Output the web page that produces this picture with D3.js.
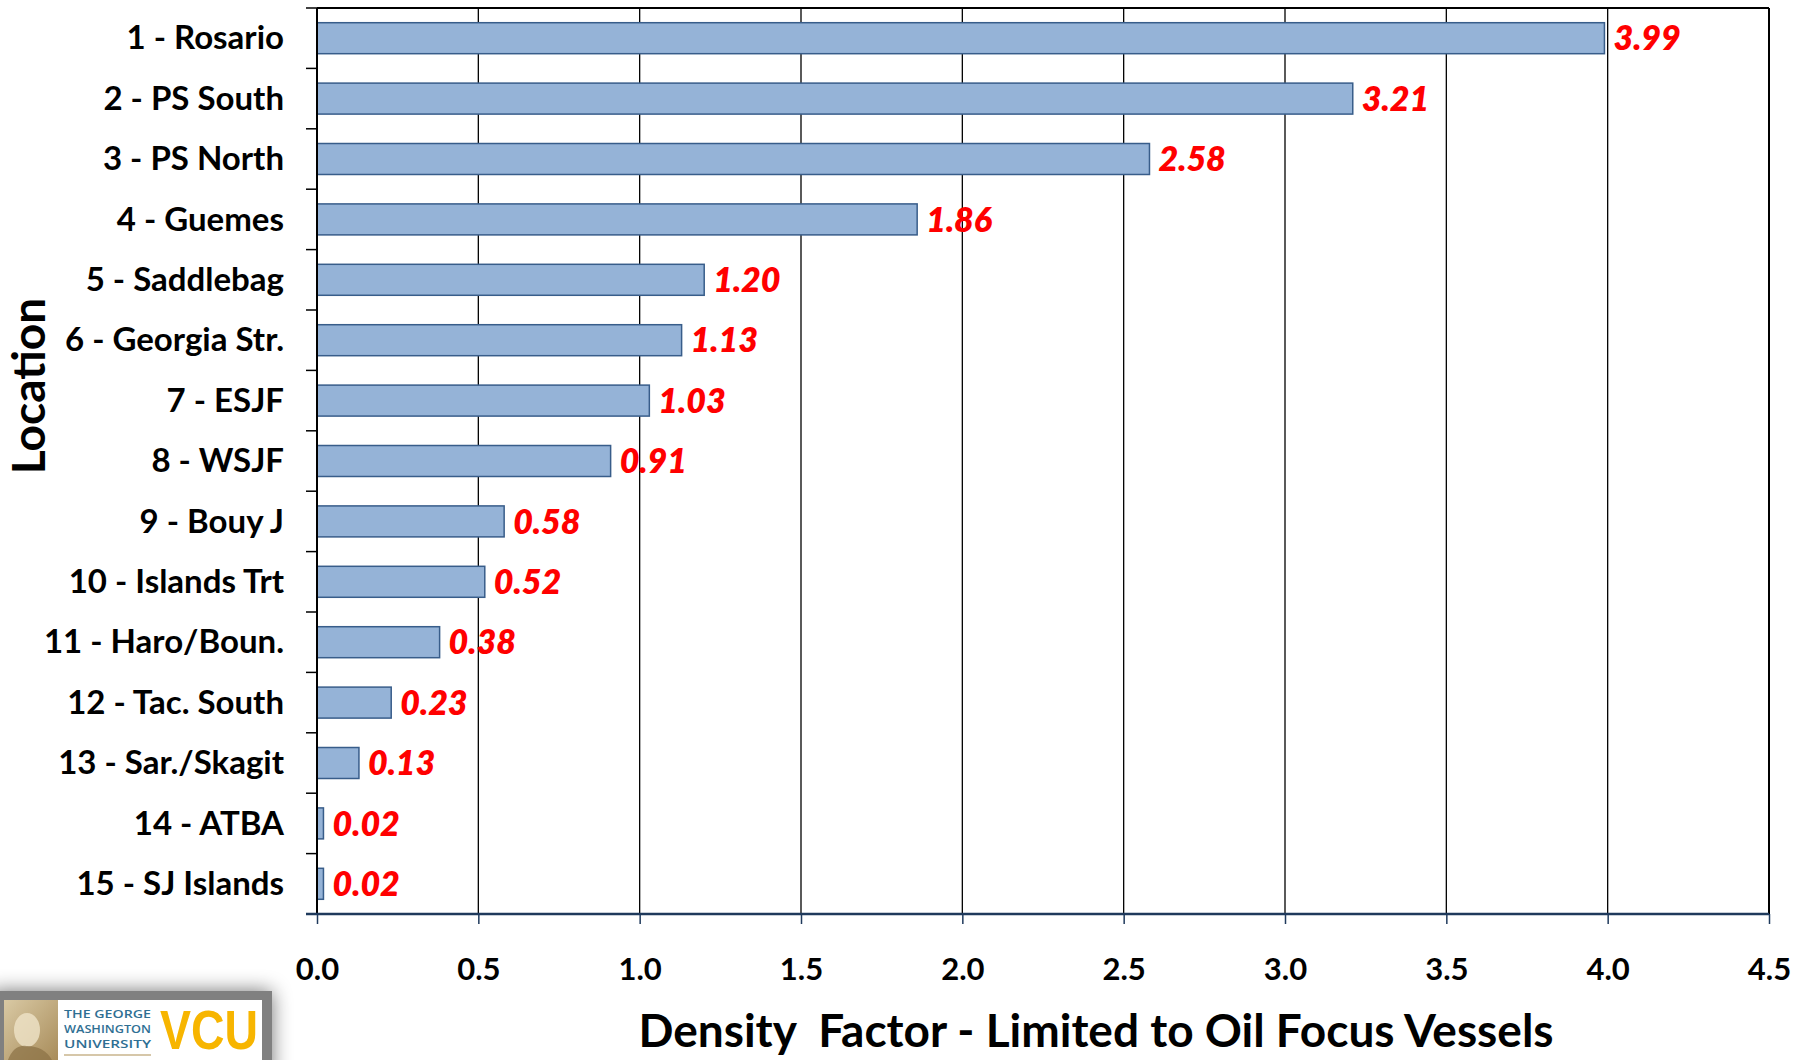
<!DOCTYPE html>
<html>
<head>
<meta charset="utf-8">
<script src="https://cdn.jsdelivr.net/npm/d3@7"></script>
<style>
  body { margin: 0; background: #fff; }
  svg { display: block; }
  .cat { font-family: Lato, "Open Sans", sans-serif; font-weight: 700; font-size: 33px; fill: #000; }
  .val { font-family: Lato, "Open Sans", sans-serif; font-weight: 800; font-style: italic; font-size: 34px; fill: #ff0000; }
  .tick-lbl { font-family: Lato, "Open Sans", sans-serif; font-weight: 700; font-size: 31px; fill: #000; }
  .title { font-family: Lato, "Open Sans", sans-serif; font-weight: 700; font-size: 46px; fill: #000; }
</style>
</head>
<body>
<svg width="1797" height="1060"></svg>
<script>
// location names, top to bottom
const categories = ["1 - Rosario", "2 - PS South", "3 - PS North", "4 - Guemes", "5 - Saddlebag",
    "6 - Georgia Str.", "7 - ESJF", "8 - WSJF", "9 - Bouy J", "10 - Islands Trt",
    "11 - Haro/Boun.", "12 - Tac. South", "13 - Sar./Skagit", "14 - ATBA", "15 - SJ Islands"];
// density factor per location
const values = [3.99, 3.21, 2.58, 1.86, 1.20, 1.13, 1.03, 0.91, 0.58, 0.52, 0.38, 0.23, 0.13, 0.02, 0.02];
// x axis ticks
const xTicks = [0, 0.5, 1.0, 1.5, 2.0, 2.5, 3.0, 3.5, 4.0, 4.5];

const svg = d3.select("svg");
const plotL = 317, plotR = 1769, plotT = 8, plotB = 914;

const x = d3.scaleLinear().domain([0, 4.5]).range([plotL, plotR]);
const y = d3.scaleBand().domain(categories).range([plotT, plotB]).paddingInner(0.487).paddingOuter(0.2435);

// vertical gridlines
svg.append("g").selectAll("line")
    .data(xTicks.slice(1))
    .enter().append("line")
    .attr("x1", d => x(d)).attr("x2", d => x(d))
    .attr("y1", plotT).attr("y2", plotB)
    .attr("stroke", "#000").attr("stroke-width", 1.3);

// top + right border
svg.append("line")
    .attr("x1", plotL).attr("x2", plotR).attr("y1", plotT).attr("y2", plotT)
    .attr("stroke", "#000").attr("stroke-width", 2);
svg.append("line")
    .attr("x1", plotR).attr("x2", plotR).attr("y1", plotT).attr("y2", plotB)
    .attr("stroke", "#000").attr("stroke-width", 2);

// bars
svg.append("g").selectAll("rect")
    .data(values)
    .enter().append("rect")
    .attr("x", x(0))
    .attr("y", (d, i) => y(categories[i]))
    .attr("width", d => x(d) - x(0))
    .attr("height", y.bandwidth())
    .attr("fill", "#95b3d7")
    .attr("stroke", "#385d8a")
    .attr("stroke-width", 1.5);

// value labels
svg.append("g").selectAll("text")
    .data(values)
    .enter().append("text")
    .attr("class", "val")
    .attr("x", d => x(d) + 9)
    .attr("y", (d, i) => y(categories[i]) + y.bandwidth() / 2)
    .attr("dy", "0.36em")
    .text(d => d.toFixed(2));

// y axis
const yAxis = svg.append("g").attr("transform", `translate(${plotL},0)`);
const bounds = d3.range(categories.length + 1).map(i => plotT + i * y.step());
yAxis.selectAll("line.tk")
    .data(bounds)
    .enter().append("line")
    .attr("x1", -11).attr("x2", 0)
    .attr("y1", d => d).attr("y2", d => d)
    .attr("stroke", "#000").attr("stroke-width", 1.5);
yAxis.append("line")
    .attr("x1", 0).attr("x2", 0).attr("y1", plotT).attr("y2", plotB)
    .attr("stroke", "#000").attr("stroke-width", 2);
yAxis.selectAll("text")
    .data(categories)
    .enter().append("text")
    .attr("class", "cat")
    .attr("x", -33)
    .attr("y", d => y(d) + y.bandwidth() / 2)
    .attr("dy", "0.34em")
    .attr("text-anchor", "end")
    .text(d => d);

// x axis
const xAxis = d3.axisBottom(x).tickValues(xTicks).tickSize(10).tickSizeOuter(0).tickFormat(d3.format(".1f"));
const gx = svg.append("g").attr("transform", `translate(0,${plotB})`).call(xAxis);
gx.select(".domain").attr("stroke", "#1f3a5c").attr("stroke-width", 2.5)
    .attr("d", `M${plotL - 11},0H${plotR}`);
gx.selectAll(".tick line").attr("stroke", "#1f3a5c").attr("stroke-width", 1.5);
gx.selectAll(".tick text").attr("class", "tick-lbl").attr("y", 0).attr("dy", 0)
    .attr("fill", null)
    .attr("transform", "translate(0,66)");
gx.attr("font-size", null).attr("font-family", null);

// axis titles
svg.append("text").attr("class", "title")
    .attr("x", 1096).attr("y", 1047)
    .attr("text-anchor", "middle")
    .attr("xml:space", "preserve")
    .text("Density  Factor - Limited to Oil Focus Vessels");
svg.append("text").attr("class", "title")
    .attr("transform", "translate(45,386) rotate(-90)")
    .attr("text-anchor", "middle")
    .text("Location");

// logo box at bottom left
const defs = svg.append("defs");
const f = defs.append("filter").attr("id", "shadow").attr("x", "-20%").attr("y", "-60%").attr("width", "140%").attr("height", "220%");
f.append("feGaussianBlur").attr("in", "SourceAlpha").attr("stdDeviation", 10).attr("result", "b");
f.append("feComponentTransfer").attr("in", "b").attr("result", "s")
    .append("feFuncA").attr("type", "linear").attr("slope", 0.55);
const fm = f.append("feMerge");
fm.append("feMergeNode").attr("in", "s");
fm.append("feMergeNode").attr("in", "SourceGraphic");

const sep = defs.append("linearGradient").attr("id", "sepia").attr("x1", 0).attr("x2", 1).attr("y1", 0).attr("y2", 1);
sep.append("stop").attr("offset", 0).attr("stop-color", "#d9c9a4");
sep.append("stop").attr("offset", 1).attr("stop-color", "#a88c5a");

const logo = svg.append("g");
logo.append("rect").attr("x", -10).attr("y", 991).attr("width", 282).attr("height", 90)
    .attr("fill", "#808080").attr("filter", "url(#shadow)");
logo.append("rect").attr("x", 4).attr("y", 1000).attr("width", 258).attr("height", 60).attr("fill", "#fff");
logo.append("rect").attr("x", 4).attr("y", 1000).attr("width", 54).attr("height", 60).attr("fill", "url(#sepia)");
logo.append("ellipse").attr("cx", 27).attr("cy", 1030).attr("rx", 13).attr("ry", 17).attr("fill", "#efe3c8").attr("opacity", 0.8);
logo.append("path").attr("d", "M8,1060 Q14,1044 27,1046 Q44,1046 52,1060 Z").attr("fill", "#8a7145").attr("opacity", 0.7);
const gw = ["THE GEORGE", "WASHINGTON", "UNIVERSITY"];
logo.selectAll("text.gw").data(gw).enter().append("text")
    .attr("x", 64).attr("y", (d, i) => 1018 + i * 15)
    .attr("textLength", 87).attr("lengthAdjust", "spacingAndGlyphs")
    .attr("font-family", "Open Sans, sans-serif").attr("font-size", 11).attr("font-weight", 600)
    .attr("fill", "#2f6f93").text(d => d);
logo.append("line").attr("x1", 64).attr("x2", 151).attr("y1", 1055).attr("y2", 1055)
    .attr("stroke", "#c9b48c").attr("stroke-width", 1.5);
logo.append("text").attr("x", 160).attr("y", 1049)
    .attr("textLength", 98).attr("lengthAdjust", "spacingAndGlyphs")
    .attr("font-family", "Liberation Sans Narrow, Liberation Sans, sans-serif")
    .attr("font-size", 56).attr("font-weight", 700).attr("fill", "#f7b500").text("VCU");
</script>
</body>
</html>
